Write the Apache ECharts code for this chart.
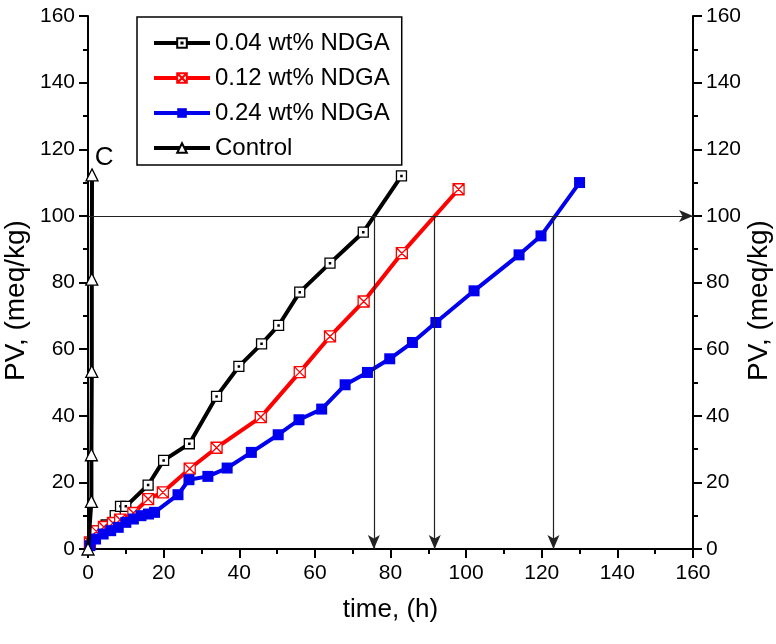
<!DOCTYPE html>
<html>
<head>
<meta charset="utf-8">
<script src="https://cdn.jsdelivr.net/npm/echarts@6/dist/echarts.min.js"></script>
<style>
html,body{margin:0;padding:0;background:#fff;}
#chart{width:776px;height:644px;}
</style>
</head>
<body>
<div id="chart"></div>
<script>
var FONT = '"Liberation Sans Narrow","Arial Narrow","Liberation Sans",Arial,sans-serif';

// [time (h), PV (meq/kg)]
var ndga004 = [[0.5,1.5],[2.2,5.4],[4.8,7.2],[7.2,10],[8.6,12.8],[10,12.8],[15.9,19.2],[20,26.6],[26.8,31.6],[34,45.8],[39.9,54.8],[45.9,61.6],[50.4,67.1],[56,77.1],[64,85.8],[72.8,95.1],[82.9,112]];
var ndga012 = [[0.5,2],[2.2,5.3],[4.2,6.6],[6.6,7.8],[8.5,8.8],[12,10.8],[15.9,15],[19.8,17],[26.9,24.1],[34,30.4],[45.7,39.6],[56,53.1],[64,63.8],[72.9,74.3],[83,88.8],[98,108]];
var ndga024 = [[0.5,1],[2,3],[4,4.5],[6,5.5],[8,6.5],[10,8],[12,9],[14,10],[16,10.5],[17.6,11],[23.8,16.3],[26.7,20.8],[31.7,21.8],[36.8,24.3],[43.2,29],[50.3,34.3],[55.8,38.8],[61.8,42],[68,49.3],[73.9,53],[79.8,57.1],[85.8,62],[92,68],[102.1,77.5],[114,88.3],[119.8,94],[130,110]];
var control = [[0,0],[0.9,14.3],[0.9,28.3],[1,53.3],[1,81],[1.06,112.3]];

var seriesNames = ['0.04 wt% NDGA','0.12 wt% NDGA','0.24 wt% NDGA','Control'];
var limitPV = 100;
var crossTimes = [75.6, 91.7, 123.1];
var xTicks = [0,160,20];
var yTicks = [0,160,20];

var myChart = echarts.init(document.getElementById('chart'));

var arrows = [[{coord:[0,limitPV]},{coord:[xTicks[1],limitPV]}]];
crossTimes.forEach(function(t){
  arrows.push([{coord:[t,limitPV]},{coord:[t,0]}]);
});

function yAx(pos, gap){
  return {
    type:'value', position:pos, min:yTicks[0], max:yTicks[1], interval:yTicks[2],
    name:'PV, (meq/kg)', nameLocation:'middle', nameGap:gap, nameRotate:90,
    nameMoveOverlap:false,
    nameTextStyle:{fontFamily:FONT,fontSize:28,color:'#000',padding:[0,36,0,0]},
    axisLine:{show:true,onZero:false,lineStyle:{color:'#000',width:2}},
    axisTick:{show:true,inside:false,length:9,lineStyle:{color:'#000',width:2}},
    minorTick:{show:true,splitNumber:2,length:5,lineStyle:{color:'#000',width:2}},
    axisLabel:{fontFamily:FONT,fontSize:21,color:'#000',margin:13},
    splitLine:{show:false}
  };
}

var option = {
  animation:false,
  backgroundColor:'#fff',
  grid:{left:88,right:83,top:16,bottom:95,outerBoundsMode:'none'},
  legend:{
    orient:'vertical', left:137, top:17,
    padding:[13,12,4,15], itemGap:9,
    itemWidth:56, itemHeight:12,
    borderColor:'#000', borderWidth:1.5,
    data:seriesNames,
    lineStyle:{width:4},
    textStyle:{fontFamily:FONT,fontSize:24,color:'#000',lineHeight:26}
  },
  xAxis:{
    type:'value', min:xTicks[0], max:xTicks[1], interval:xTicks[2],
    name:'time, (h)', nameLocation:'middle', nameGap:48, nameMoveOverlap:false,
    nameTextStyle:{fontFamily:FONT,fontSize:26,color:'#000'},
    axisLine:{onZero:false,lineStyle:{color:'#000',width:2}},
    axisTick:{length:9,lineStyle:{color:'#000',width:2}},
    minorTick:{show:true,splitNumber:2,length:5,lineStyle:{color:'#000',width:2}},
    axisLabel:{fontFamily:FONT,fontSize:21,color:'#000',margin:14},
    splitLine:{show:false}
  },
  yAxis:[yAx('left', 58), yAx('right', 52)],
  series:[
    {
      name:seriesNames[0], type:'line', data:ndga004,
      symbol:'path://M0,0H10V10H0Z M4.4,4.4H5.6V5.6H4.4Z', symbolSize:10,
      lineStyle:{color:'#000',width:4},
      itemStyle:{color:'#fff',borderColor:'#000',borderWidth:1.3},
      z:3,
      markLine:{
        silent:true, symbol:['none','arrow'], symbolSize:[9,14],
        label:{show:false},
        lineStyle:{color:'#222',width:1.2,type:'solid'},
        data:arrows
      }
    },
    {
      name:seriesNames[1], type:'line', data:ndga012,
      symbol:'path://M0,0H10V10H0Z M0,0L10,10 M10,0L0,10', symbolSize:11,
      lineStyle:{color:'#f00',width:4},
      itemStyle:{color:'#fff',borderColor:'#f00',borderWidth:1.3},
      z:3
    },
    {
      name:seriesNames[2], type:'line', data:ndga024,
      symbol:'rect', symbolSize:11,
      lineStyle:{color:'#0000ee',width:4},
      itemStyle:{color:'#0000ee'},
      z:3
    },
    {
      name:seriesNames[3], type:'line',
      data:control.map(function(p,i){
        if(i === control.length-1){
          return {value:p,label:{show:true,formatter:'C',position:'right',distance:0,offset:[-4,-17],
            fontFamily:FONT,fontSize:26,color:'#000'}};
        }
        return p;
      }),
      symbol:'triangle', symbolSize:12,
      lineStyle:{color:'#000',width:4},
      itemStyle:{color:'#fff',borderColor:'#000',borderWidth:1.3},
      z:4
    }
  ]
};

myChart.setOption(option);
</script>
</body>
</html>
